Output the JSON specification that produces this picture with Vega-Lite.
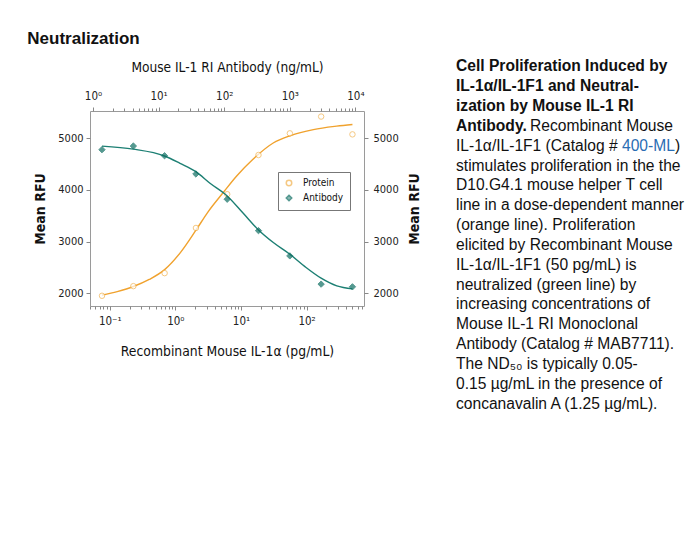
{
  "$schema": "https://vega.github.io/schema/vega-lite/v6.json",
  "background": "white",
  "padding": {"left": 27, "top": 30, "right": 5, "bottom": 5},
  "title": {"text": "Neutralization", "anchor": "start", "font": "Liberation Sans", "fontSize": 17, "fontWeight": "bold", "color": "#111", "offset": 11, "dx": -6},
  "config": {"view": {"stroke": null}, "font": "DejaVu Sans Condensed, Liberation Sans, sans-serif"},
  "spacing": 34,
  "datasets": {
    "proteinPts": [
      {"conc": 0.0762, "rfu": 1948, "series": "Protein"},
      {"conc": 0.229, "rfu": 2135, "series": "Protein"},
      {"conc": 0.686, "rfu": 2387, "series": "Protein"},
      {"conc": 2.06, "rfu": 3263, "series": "Protein"},
      {"conc": 6.17, "rfu": 3917, "series": "Protein"},
      {"conc": 18.5, "rfu": 4677, "series": "Protein"},
      {"conc": 55.6, "rfu": 5097, "series": "Protein"},
      {"conc": 166.7, "rfu": 5422, "series": "Protein"},
      {"conc": 500, "rfu": 5077, "series": "Protein"}
    ],
    "antibodyPts": [
      {"conc": 1.37, "rfu": 4780, "series": "Antibody"},
      {"conc": 4.12, "rfu": 4851, "series": "Antibody"},
      {"conc": 12.3, "rfu": 4663, "series": "Antibody"},
      {"conc": 37, "rfu": 4309, "series": "Antibody"},
      {"conc": 111, "rfu": 3820, "series": "Antibody"},
      {"conc": 333, "rfu": 3211, "series": "Antibody"},
      {"conc": 1000, "rfu": 2721, "series": "Antibody"},
      {"conc": 3000, "rfu": 2174, "series": "Antibody"},
      {"conc": 9000, "rfu": 2122, "series": "Antibody"}
    ],
    "proteinCurve": [
      {"conc": 0.0762, "rfu": 1960},
      {"conc": 0.13, "rfu": 2030},
      {"conc": 0.229, "rfu": 2128},
      {"conc": 0.4, "rfu": 2265},
      {"conc": 0.686, "rfu": 2455},
      {"conc": 1.2, "rfu": 2790},
      {"conc": 2.06, "rfu": 3220},
      {"conc": 3.17, "rfu": 3580},
      {"conc": 5.37, "rfu": 3950},
      {"conc": 8.6, "rfu": 4270},
      {"conc": 15.1, "rfu": 4590},
      {"conc": 31, "rfu": 4910},
      {"conc": 56, "rfu": 5050},
      {"conc": 127, "rfu": 5170},
      {"conc": 287, "rfu": 5236},
      {"conc": 500, "rfu": 5268}
    ],
    "antibodyCurve": [
      {"conc": 1.37, "rfu": 4850},
      {"conc": 4.12, "rfu": 4790},
      {"conc": 12.3, "rfu": 4658},
      {"conc": 21.2, "rfu": 4516},
      {"conc": 37, "rfu": 4354},
      {"conc": 60.7, "rfu": 4130},
      {"conc": 111, "rfu": 3884},
      {"conc": 195, "rfu": 3547},
      {"conc": 333, "rfu": 3224},
      {"conc": 560, "rfu": 2980},
      {"conc": 1000, "rfu": 2754},
      {"conc": 1700, "rfu": 2514},
      {"conc": 3000, "rfu": 2290},
      {"conc": 5200, "rfu": 2141},
      {"conc": 9000, "rfu": 2083}
    ],
    "caption": [
      {"line": 0, "part": "bold", "text": "Cell Proliferation Induced by"},
      {"line": 1, "part": "bold", "text": "IL-1α/IL-1F1 and Neutral-"},
      {"line": 2, "part": "bold", "text": "ization by Mouse IL-1 RI"},
      {"line": 3, "part": "bold", "text": "Antibody."},
      {"line": 3, "part": "after", "text": "Recombinant Mouse"},
      {"line": 4, "part": "body", "text": "IL-1α/IL-1F1 (Catalog #"},
      {"line": 4, "part": "link", "text": "400-ML"},
      {"line": 4, "part": "close", "text": ")"},
      {"line": 5, "part": "body", "text": "stimulates proliferation in the the"},
      {"line": 6, "part": "body", "text": "D10.G4.1 mouse helper T cell"},
      {"line": 7, "part": "body", "text": "line in a dose-dependent manner"},
      {"line": 8, "part": "body", "text": "(orange line). Proliferation"},
      {"line": 9, "part": "body", "text": "elicited by Recombinant Mouse"},
      {"line": 10, "part": "body", "text": "IL-1α/IL-1F1 (50 pg/mL) is"},
      {"line": 11, "part": "body", "text": "neutralized (green line) by"},
      {"line": 12, "part": "body", "text": "increasing concentrations of"},
      {"line": 13, "part": "body", "text": "Mouse IL-1 RI Monoclonal"},
      {"line": 14, "part": "body", "text": "Antibody (Catalog # MAB7711)."},
      {"line": 15, "part": "body", "text": "The ND₅₀ is typically 0.05-"},
      {"line": 16, "part": "body", "text": "0.15 µg/mL in the presence of"},
      {"line": 17, "part": "body", "text": "concanavalin A (1.25 µg/mL)."}
    ]
  },
  "hconcat": [
    {
      "width": 274,
      "height": 195,
      "view": {"stroke": "#9a9a9a", "strokeWidth": 1},
      "layer": [
        {
          "data": {"name": "proteinCurve"},
          "mark": {"type": "line", "color": "#f0a22e", "strokeWidth": 1.4, "interpolate": "monotone"},
          "encoding": {
            "x": {"field": "conc", "type": "quantitative",
              "scale": {"type": "log", "domain": [0.05, 750], "nice": false},
              "axis": {"orient": "bottom", "values": [0.1, 1, 10, 100],
                "labelExpr": "datum.value < 0.5 ? '10⁻¹' : datum.value < 5 ? '10⁰' : datum.value < 50 ? '10¹' : '10²'",
                "title": "Recombinant Mouse IL-1α (pg/mL)", "domain": false, "grid": false,
                "tickSize": 4, "tickColor": "#888", "labelPadding": 5, "labelFontSize": 11.5, "labelColor": "#222",
                "titleFontSize": 13.8, "titleFontWeight": "normal", "titleColor": "#111", "titlePadding": 18}},
            "y": {"field": "rfu", "type": "quantitative",
              "scale": {"domain": [1750, 5530], "nice": false, "zero": false},
              "axis": {"orient": "left", "values": [2000, 3000, 4000, 5000], "format": "d", "title": "Mean RFU",
                "domain": false, "grid": false, "tickSize": 4, "tickColor": "#888", "labelPadding": 3,
                "labelFontSize": 11, "labelColor": "#222", "titleFontSize": 14, "titleFontWeight": "bold",
                "titleColor": "#111", "titlePadding": 10}}
          }
        },
        {
          "data": {"name": "proteinPts"},
          "mark": {"type": "point", "filled": true, "size": 30, "strokeWidth": 1},
          "encoding": {
            "x": {"field": "conc", "type": "quantitative",
              "scale": {"type": "log", "domain": [0.05, 750], "nice": false},
              "axis": {"orient": "bottom", "values": [0.05, 0.06, 0.07, 0.08, 0.09, 0.2, 0.3, 0.4, 0.5, 0.6, 0.7, 0.8, 0.9, 2, 3, 4, 5, 6, 7, 8, 9, 20, 30, 40, 50, 60, 70, 80, 90, 200, 300, 400, 500, 600, 700],
                "labels": false, "title": null, "domain": false, "grid": false, "tickSize": 3, "tickColor": "#888"}},
            "y": {"field": "rfu", "type": "quantitative",
              "scale": {"domain": [1750, 5530], "nice": false, "zero": false}, "axis": null},
            "stroke": {"field": "series", "type": "nominal",
              "scale": {"domain": ["Protein", "Antibody"], "range": ["#f2b24e", "#0e6e62"]},
              "legend": {"title": null, "orient": "none", "legendX": 188, "legendY": 61, "strokeColor": "#777", "fillColor": "white", "padding": 6, "labelFontSize": 10, "labelColor": "#111", "symbolSize": 30, "rowPadding": 3, "labelOffset": 9}},
            "fill": {"field": "series", "type": "nominal",
              "scale": {"domain": ["Protein", "Antibody"], "range": ["#ffffff", "#0e6e62"]},
              "legend": {"title": null, "orient": "none", "legendX": 188, "legendY": 61, "strokeColor": "#777", "fillColor": "white", "padding": 6, "labelFontSize": 10, "labelColor": "#111", "symbolSize": 30, "rowPadding": 3, "labelOffset": 9}},
            "shape": {"field": "series", "type": "nominal",
              "scale": {"domain": ["Protein", "Antibody"], "range": ["circle", "diamond"]},
              "legend": {"title": null, "orient": "none", "legendX": 188, "legendY": 61, "strokeColor": "#777", "fillColor": "white", "padding": 6, "labelFontSize": 10, "labelColor": "#111", "symbolSize": 30, "rowPadding": 3, "labelOffset": 9}}
          }
        },
        {
          "data": {"name": "antibodyCurve"},
          "mark": {"type": "line", "color": "#1c7f73", "strokeWidth": 1.4, "interpolate": "monotone"},
          "encoding": {
            "x": {"field": "conc", "type": "quantitative",
              "scale": {"type": "log", "domain": [0.9, 13500], "nice": false},
              "axis": {"orient": "top", "values": [1, 10, 100, 1000, 10000],
                "labelExpr": "datum.value < 5 ? '10⁰' : datum.value < 50 ? '10¹' : datum.value < 500 ? '10²' : datum.value < 5000 ? '10³' : '10⁴'",
                "title": "Mouse IL-1 RI Antibody (ng/mL)", "domain": false, "grid": false,
                "tickSize": 4, "tickColor": "#888", "labelPadding": 6, "labelFontSize": 11.5, "labelColor": "#222",
                "titleFontSize": 13.6, "titleFontWeight": "normal", "titleColor": "#111", "titlePadding": 16}},
            "y": {"field": "rfu", "type": "quantitative",
              "scale": {"domain": [1750, 5530], "nice": false, "zero": false},
              "axis": {"orient": "right", "values": [2000, 3000, 4000, 5000], "format": "d", "title": "Mean RFU", "titleAngle": 270, "titleBaseline": "top",
                "domain": false, "grid": false, "tickSize": 4, "tickColor": "#888", "labelPadding": 5,
                "labelFontSize": 11, "labelColor": "#222", "titleFontSize": 14, "titleFontWeight": "bold",
                "titleColor": "#111", "titlePadding": 9}}
          }
        },
        {
          "data": {"name": "antibodyPts"},
          "mark": {"type": "point", "filled": true, "size": 40, "strokeWidth": 1},
          "encoding": {
            "x": {"field": "conc", "type": "quantitative",
              "scale": {"type": "log", "domain": [0.9, 13500], "nice": false},
              "axis": {"orient": "top", "values": [2, 3, 4, 5, 6, 7, 8, 9, 20, 30, 40, 50, 60, 70, 80, 90, 200, 300, 400, 500, 600, 700, 800, 900, 2000, 3000, 4000, 5000, 6000, 7000, 8000, 9000],
                "labels": false, "title": null, "domain": false, "grid": false, "tickSize": 3, "tickColor": "#888"}},
            "y": {"field": "rfu", "type": "quantitative",
              "scale": {"domain": [1750, 5530], "nice": false, "zero": false}, "axis": null},
            "stroke": {"field": "series", "type": "nominal"},
            "fill": {"field": "series", "type": "nominal"},
            "shape": {"field": "series", "type": "nominal"}
          }
        }
      ],
      "resolve": {"scale": {"x": "independent", "y": "independent"}, "axis": {"x": "independent", "y": "independent"}}
    },
    {
      "width": 235,
      "height": 357,
      "data": {"name": "caption"},
      "encoding": {
        "y": {"field": "line", "type": "quantitative", "scale": {"domain": [2.25, 20.25], "reverse": true}, "axis": null},
        "x": {"value": 0},
        "text": {"field": "text", "type": "nominal"}
      },
      "layer": [
        {"transform": [{"filter": "datum.part == 'bold'"}],
          "mark": {"type": "text", "align": "left", "baseline": "middle", "font": "Liberation Sans", "fontSize": 15.6, "fontWeight": "bold", "color": "#111"}},
        {"transform": [{"filter": "datum.part == 'body'"}],
          "mark": {"type": "text", "align": "left", "baseline": "middle", "font": "Liberation Sans", "fontSize": 15.6, "color": "#111"}},
        {"transform": [{"filter": "datum.part == 'after'"}],
          "mark": {"type": "text", "align": "left", "baseline": "middle", "font": "Liberation Sans", "fontSize": 15.6, "color": "#111", "dx": 74}},
        {"transform": [{"filter": "datum.part == 'link'"}],
          "mark": {"type": "text", "align": "left", "baseline": "middle", "font": "Liberation Sans", "fontSize": 15.6, "color": "#2a6db3", "dx": 166}},
        {"transform": [{"filter": "datum.part == 'close'"}],
          "mark": {"type": "text", "align": "left", "baseline": "middle", "font": "Liberation Sans", "fontSize": 15.6, "color": "#111", "dx": 219}}
      ]
    }
  ]
}
